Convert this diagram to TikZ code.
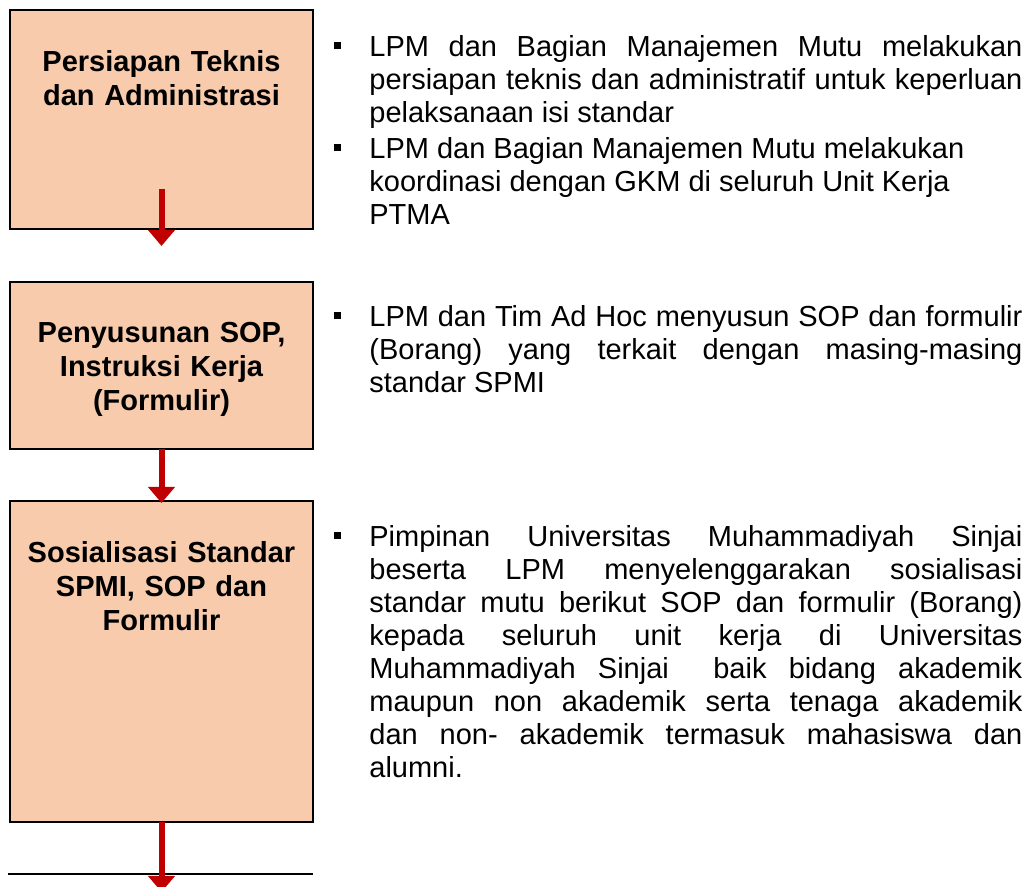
\documentclass[tikz,border=0pt]{standalone}
\usepackage{fontspec}
\setmainfont{Liberation Sans}
\usepackage{tikz}
\usetikzlibrary{positioning, arrows.meta}

\definecolor{peach}{HTML}{F7CBAC}
\definecolor{merah}{HTML}{C00000}

\pretolerance=10000
\tolerance=10000
\hbadness=10000

\newcommand{\butir}{\noindent\llap{\rule[3.5pt]{3.6pt}{3.6pt}\hspace{14pt}}}

\tikzset{
	stepbox/.style={rectangle, draw, fill=peach, line width=1pt, minimum width=151.5pt, inner sep=0pt, outer sep=0pt},
	judul/.style={text width=151.5pt, align=center, inner sep=0pt, font=\bfseries\fontsize{14.5pt}{17pt}\selectfont},
	isi/.style={text width=326.5pt, align=justify, inner sep=0pt, font=\fontsize{14.5pt}{16.5pt}\selectfont},
	panah/.style={draw=merah, line width=3pt, -{Triangle[width=13pt,length=8pt]}}
}

\begin{document}
\begin{tikzpicture}
			\useasboundingbox (0,0) rectangle (517.5pt,-443.5pt);

			% Nodes
			\node (persiapan) [stepbox, minimum height=109.5pt, anchor=north west] at (5pt,-5pt) {};
			\node (penyusunan) [stepbox, minimum height=83.5pt, below=26.5pt of persiapan] {};
			\node (sosialisasi) [stepbox, minimum height=160.5pt, below=26pt of penyusunan] {};

			\node (judulA) [judul, below=20pt of persiapan.north] {Persiapan Teknis\\ dan Administrasi};
			\node (judulB) [judul, below=20pt of penyusunan.north] {Penyusunan SOP,\\ Instruksi Kerja\\ (Formulir)};
			\node (judulC) [judul, below=20pt of sosialisasi.north] {Sosialisasi Standar\\ SPMI, SOP dan\\ Formulir};

			\node (isiA) [isi, below right=12.5pt and 28pt of persiapan.north east] {\butir LPM dan Bagian Manajemen Mutu melakukan\linebreak persiapan teknis dan administratif untuk keperluan\linebreak pelaksanaan isi standar\par\vspace{1.5pt}
				\butir LPM dan Bagian Manajemen Mutu melakukan\newline koordinasi dengan GKM di seluruh Unit Kerja\newline PTMA};
			\node (isiB) [isi, below right=11.5pt and 28pt of penyusunan.north east] {\butir LPM dan Tim Ad Hoc menyusun SOP dan formulir\linebreak (Borang) yang terkait dengan masing-masing\linebreak standar SPMI};
			\node (isiC) [isi, below right=12pt and 28pt of sosialisasi.north east] {\butir Pimpinan Universitas Muhammadiyah Sinjai\linebreak beserta LPM menyelenggarakan sosialisasi\linebreak standar mutu berikut SOP dan formulir (Borang)\linebreak kepada seluruh unit kerja di Universitas\linebreak Muhammadiyah Sinjai~ baik bidang akademik\linebreak maupun non akademik serta tenaga akademik\linebreak dan non- akademik termasuk mahasiswa dan\linebreak alumni.};

			\coordinate (mulaiA) at ([yshift=20pt]persiapan.south);
			\coordinate (ujungA) at ([yshift=-8.5pt]persiapan.south);
			\coordinate (ujungC) at ([yshift=-35pt]sosialisasi.south);
			\coordinate (garisL) at (4pt,-437pt);
			\coordinate (garisR) at (sosialisasi.east |- garisL);

			% Edges
			\draw[line width=1pt] (garisL) -- (garisR);
			\draw[panah] (mulaiA) -- (ujungA);
			\draw[panah] (penyusunan.south) -- ([yshift=-1pt]sosialisasi.north);
			\draw[panah] (sosialisasi.south) -- (ujungC);

		\end{tikzpicture}
\end{document}
